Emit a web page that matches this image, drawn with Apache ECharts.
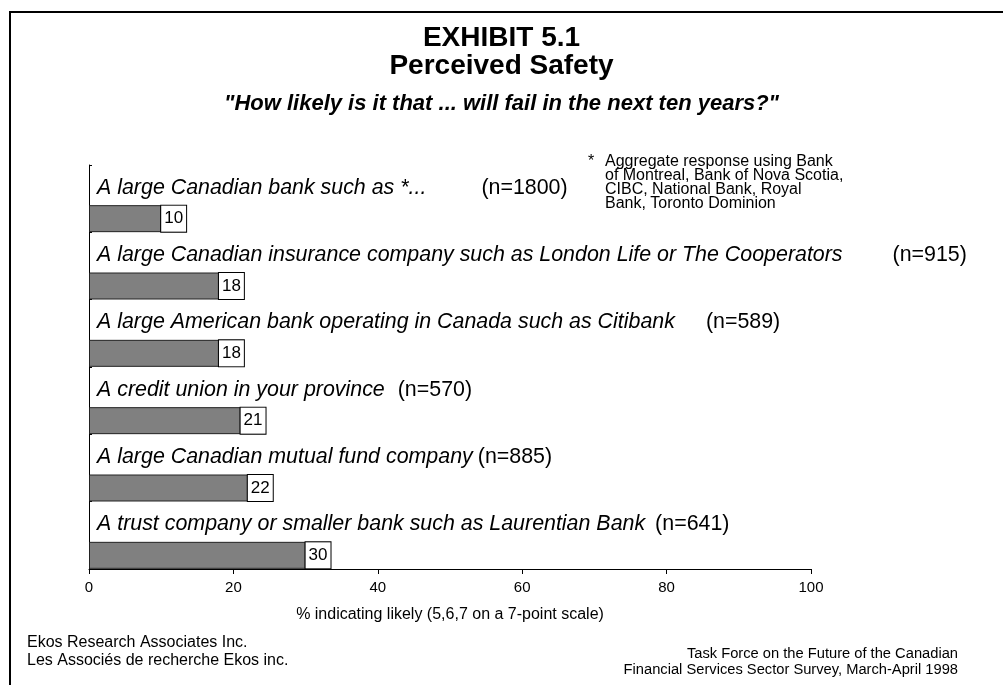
<!DOCTYPE html>
<html>
<head>
<meta charset="utf-8">
<title>Perceived Safety</title>
<script src="https://cdn.jsdelivr.net/npm/echarts@6/dist/echarts.min.js"></script>
<style>
  html, body { margin: 0; padding: 0; background: #fff; }
  #main { width: 1003px; height: 685px; }
</style>
</head>
<body>
<div id="main"></div>
<script>
const categories = [
    'A large Canadian bank such as *...',
    'A large Canadian insurance company such as London Life or The Cooperators',
    'A large American bank operating in Canada such as Citibank',
    'A credit union in your province',
    'A large Canadian mutual fund company',
    'A trust company or smaller bank such as Laurentian Bank'
];
const sampleSizes = ['1800', '915', '589', '570', '885', '641'];
const likelyPct = [10, 18, 18, 21, 22, 30];

const FONT = '"Liberation Sans", Arial, sans-serif';

// gap in px between each statement and its (n=...) note
const nGaps = [55, 50, 31, 13, 5, 10];
const richLabel = {
    cat: { fontStyle: 'italic', fontSize: 21.4, color: '#000', fontFamily: FONT },
    n: { fontSize: 21.4, color: '#000', fontFamily: FONT }
};
nGaps.forEach((w, i) => { richLabel['g' + i] = { width: w }; });

const chart = echarts.init(document.getElementById('main'));

const option = {
    backgroundColor: '#fff',
    animation: false,
    textStyle: { fontFamily: FONT, color: '#000' },
    title: [
        {
            text: 'EXHIBIT 5.1\nPerceived Safety',
            left: 'center',
            top: 19,
            textStyle: { fontSize: 28, fontWeight: 'bold', lineHeight: 28, color: '#000', fontFamily: FONT }
        },
        {
            text: '"How likely is it that ... will fail in the next ten years?"',
            left: 'center',
            top: 87,
            textStyle: { fontSize: 22, fontWeight: 'bold', fontStyle: 'italic', lineHeight: 24, color: '#000', fontFamily: FONT }
        }
    ],
    grid: { left: 89, right: 192, top: 165, bottom: 116 },
    xAxis: {
        type: 'value',
        min: 0,
        max: 100,
        interval: 20,
        splitLine: { show: false },
        axisLine: { show: true, lineStyle: { color: '#000', width: 1 } },
        axisTick: { show: true, length: 5, lineStyle: { color: '#000' } },
        axisLabel: { fontSize: 15, color: '#000', margin: 11, fontFamily: FONT },
        name: '% indicating likely (5,6,7 on a 7-point scale)',
        nameLocation: 'middle',
        nameGap: 38,
        nameTextStyle: { fontSize: 16, color: '#000', fontFamily: FONT }
    },
    yAxis: {
        type: 'category',
        data: categories,
        inverse: true,
        axisLine: { show: true, lineStyle: { color: '#000', width: 1 } },
        axisTick: { show: true, inside: true, length: 3, lineStyle: { color: '#000' } },
        axisLabel: {
            inside: true,
            margin: 8,
            padding: [0, 0, 22, 0],
            formatter: (value, idx) => `{cat|${value}}{g${idx}|}{n|(n=${sampleSizes[idx]})}`,
            rich: richLabel
        }
    },
    series: [
        {
            // empty slot so the bar sits in the lower part of each band
            type: 'bar',
            data: categories.map(() => '-'),
            barWidth: 40,
            barGap: '0%',
            silent: true
        },
        {
            type: 'bar',
            data: likelyPct,
            barWidth: 27,
            barGap: '0%',
            itemStyle: { color: '#808080', borderColor: '#222', borderWidth: 1 },
            label: {
                show: true,
                position: 'right',
                distance: 0,
                formatter: '{c}',
                fontSize: 17,
                color: '#000',
                fontFamily: FONT,
                backgroundColor: '#fff',
                borderColor: '#000',
                borderWidth: 1,
                padding: [5, 3, 4, 3]
            }
        }
    ],
    graphic: [
        {
            type: 'rect',
            silent: true,
            shape: { x: 10, y: 12, width: 1200, height: 900 },
            style: { fill: 'none', stroke: '#000', lineWidth: 2 }
        },
        {
            type: 'text',
            x: 588, y: 154,
            style: { text: '*', font: '16px ' + FONT, fill: '#000' }
        },
        {
            type: 'text',
            x: 605, y: 155,
            style: {
                text: 'Aggregate response using Bank\nof Montreal, Bank of Nova Scotia,\nCIBC, National Bank, Royal\nBank, Toronto Dominion',
                font: '16px ' + FONT, lineHeight: 14, fill: '#000'
            }
        },
        {
            type: 'text',
            x: 27, y: 634,
            style: {
                text: 'Ekos Research Associates Inc.\nLes Associés de recherche Ekos inc.',
                font: '16px ' + FONT, lineHeight: 18, fill: '#000'
            }
        },
        {
            type: 'text',
            x: 958, y: 646,
            style: {
                text: 'Task Force on the Future of the Canadian\nFinancial Services Sector Survey, March-April 1998',
                font: '14.7px ' + FONT, lineHeight: 16, fill: '#000', align: 'right'
            }
        }
    ]
};

chart.setOption(option);
</script>
</body>
</html>
